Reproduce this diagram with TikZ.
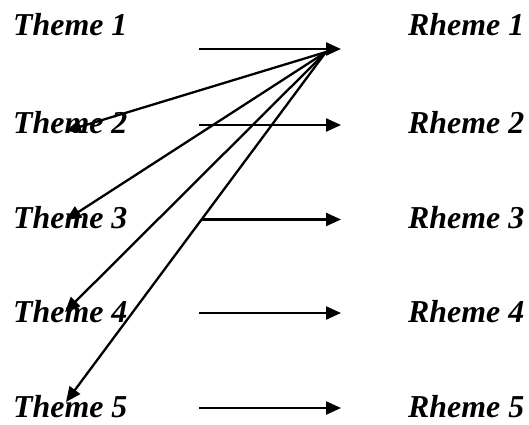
\documentclass[tikz,border=0pt]{standalone}
\usepackage{fontspec}
\setmainfont{Liberation Serif}
\usetikzlibrary{arrows.meta,calc}
\begin{document}
\begin{tikzpicture}[x=1bp,y=-1bp,
  lbl/.style={inner sep=0pt,font=\fontsize{32}{36}\selectfont\bfseries\itshape},
  conn/.style={line width=2.3bp,-{Triangle[length=15bp,width=13bp]}}]
\useasboundingbox (0,0) rectangle (529,424);
% labels
\node[lbl,anchor=base west] (t1) at (13,35) {Theme 1};
\node[lbl,anchor=base west] (t2) at (13,133) {Theme 2};
\node[lbl,anchor=base west] (t3) at (13,228) {Theme 3};
\node[lbl,anchor=base west] (t4) at (13,322) {Theme 4};
\node[lbl,anchor=base west] (t5) at (13,417) {Theme 5};
\node[lbl,anchor=base west] (r1) at (408,35) {Rheme 1};
\node[lbl,anchor=base west] (r2) at (408,133) {Rheme 2};
\node[lbl,anchor=base west] (r3) at (408,228) {Rheme 3};
\node[lbl,anchor=base west] (r4) at (408,322) {Rheme 4};
\node[lbl,anchor=base west] (r5) at (408,417) {Rheme 5};
% connector end points
\coordinate (c) at (326,52);
\coordinate (d2) at (66,131);
\coordinate (d3) at (66,220);
\coordinate (d4) at (65,312);
\coordinate (d5) at (66,402);
\coordinate (s1) at (199,49);  \coordinate (e1) at (341,49);
\coordinate (s2) at (199,125); \coordinate (e2) at (341,125);
\coordinate (s4) at (199,313); \coordinate (e4) at (341,313);
\coordinate (s5) at (199,408); \coordinate (e5) at (341,408);
\coordinate (e3) at (341,219);
\coordinate (s3) at ($(c)!0.4785!(d5)$);
% diagonal connectors
\draw[conn] (c) -- (d2);
\draw[conn] (c) -- (d3);
\draw[conn] (c) -- (d4);
\draw[conn] (c) -- (d5);
% horizontal connectors
\draw[conn] (s1) -- (e1);
\draw[conn] (s2) -- (e2);
\draw[conn] (s3) -- (s3 -| e3);
\draw[conn] (s4) -- (e4);
\draw[conn] (s5) -- (e5);
\end{tikzpicture}
\end{document}
